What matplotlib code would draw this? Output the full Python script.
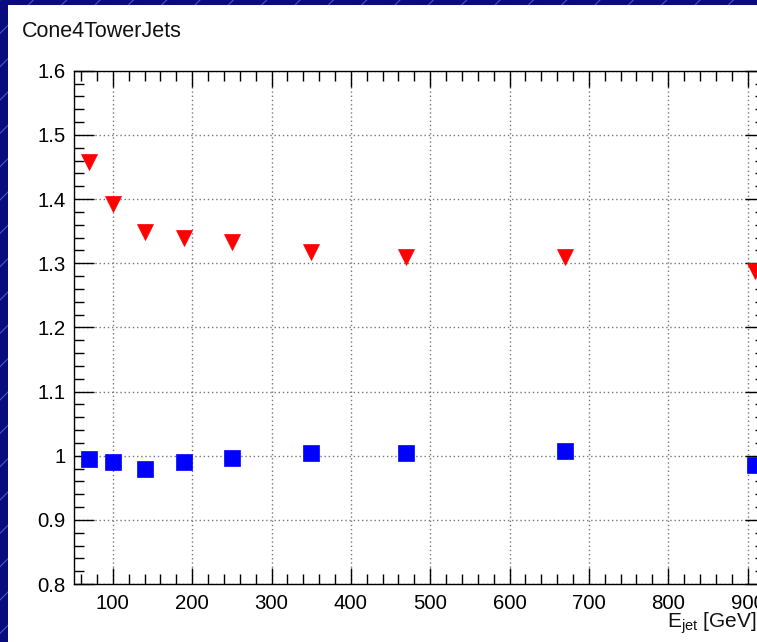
import matplotlib.pyplot as plt
from matplotlib.patches import Rectangle
from matplotlib.ticker import MultipleLocator

plt.rcParams['font.family'] = ['Liberation Sans', 'DejaVu Sans']
plt.rcParams['hatch.linewidth'] = 0.8
plt.rcParams['hatch.color'] = '#4656c8'

# --- data: response vs jet energy ---
e_jet = [70, 100, 140, 190, 250, 350, 470, 670, 910]
resp_uncal = [1.458, 1.393, 1.349, 1.340, 1.333, 1.318, 1.310, 1.310, 1.288]
resp_calib = [0.995, 0.990, 0.979, 0.990, 0.997, 1.004, 1.004, 1.007, 0.986]

W, H = 757, 642
fig = plt.figure(figsize=(W / 100, H / 100), dpi=100)
fig.patch.set_facecolor('#0b0b80')

# slide background: navy with thin diagonal stripes, white pad on top
fig.patches.append(Rectangle((0, 0), 1, 1, transform=fig.transFigure,
                             facecolor='#0b0b80', edgecolor='#4656c8',
                             hatch='/', lw=0, zorder=-2))
fig.patches.append(Rectangle((8 / W, 0), 1, 1 - 5 / H, transform=fig.transFigure,
                             facecolor='white', edgecolor='none', zorder=-1))

# frame runs past the right edge of the canvas
left, right = 74 / W, 765 / W
bottom, top = (H - 584) / H, 1 - 70.7 / H
ax = fig.add_axes([left, bottom, right - left, top - bottom])
ax.set_facecolor('white')

ax.plot(e_jet, resp_uncal, linestyle='none', marker='v', ms=11.5,
        color='#ff0000', mec='#ff0000', mew=0.5, zorder=3, clip_on=False)
ax.plot(e_jet, resp_calib, linestyle='none', marker='s', ms=11.5,
        color='#0000ff', mec='#0000ff', mew=0.5, zorder=3, clip_on=False)

ax.set_xlim(51, 922)
ax.set_ylim(0.8, 1.6)
ax.xaxis.set_major_locator(MultipleLocator(100))
ax.xaxis.set_minor_locator(MultipleLocator(20))
ax.yaxis.set_major_locator(MultipleLocator(0.1))
ax.yaxis.set_minor_locator(MultipleLocator(0.02))
ax.set_yticks([0.8, 0.9, 1.0, 1.1, 1.2, 1.3, 1.4, 1.5, 1.6])
ax.set_yticklabels(['0.8', '0.9', '1', '1.1', '1.2', '1.3', '1.4', '1.5', '1.6'])

ax.grid(True, which='major', color='#777777', linestyle=(0, (1, 2)), lw=1)
ax.tick_params(which='both', direction='in', top=True, right=True,
               labelsize=14.7, colors='black', width=1)
ax.tick_params(axis='y', which='major', length=14.5, pad=6)
ax.tick_params(axis='y', which='minor', length=7.2)
ax.tick_params(axis='x', which='major', length=11.5, pad=7)
ax.tick_params(axis='x', which='minor', length=7.5)
for s in ax.spines.values():
    s.set_linewidth(1)
    s.set_color('black')

fig.text(22 / W, 1 - 37 / H, 'Cone4TowerJets', fontsize=15.5, ha='left',
         va='baseline', color='#111111')
fig.text(667 / W, 1 - 628 / H, r'$\mathregular{E_{jet}}$ [GeV]', fontsize=15,
         ha='left', va='baseline', color='#111111')

fig.savefig('out.png', dpi=100, facecolor=fig.get_facecolor())
